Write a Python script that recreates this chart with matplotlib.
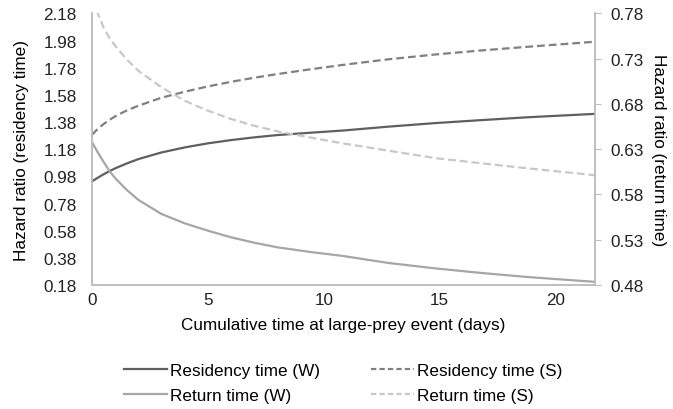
import numpy as np
import matplotlib
matplotlib.use('Agg')
import matplotlib.pyplot as plt
from matplotlib.lines import Line2D

plt.rcParams['font.family'] = ['Liberation Sans', 'DejaVu Sans']

# days since start of large-prey event
days = [0, 0.25, 0.5, 0.75, 1, 1.5, 2, 3, 4, 5, 6, 7, 8, 9.5, 10.8, 12.8, 14.8, 16.8, 18.8, 21.7]

# hazard ratios
res_w = [0.943, 0.97, 0.995, 1.018, 1.039, 1.075, 1.107, 1.156, 1.193, 1.223, 1.247, 1.267,
         1.284, 1.302, 1.317, 1.346, 1.372, 1.394, 1.415, 1.44]
res_s = [1.286, 1.33, 1.365, 1.395, 1.422, 1.465, 1.500, 1.559, 1.603, 1.642, 1.676, 1.706,
         1.733, 1.770, 1.800, 1.842, 1.877, 1.907, 1.934, 1.971]
ret_w = [0.6376, 0.6265, 0.616, 0.606, 0.598, 0.585, 0.574, 0.5584, 0.5481, 0.540, 0.5327,
         0.5267, 0.5216, 0.5162, 0.5122, 0.5043, 0.4984, 0.4933, 0.4888, 0.4835]
ret_s = [0.800, 0.780, 0.7645, 0.753, 0.7442, 0.729, 0.7166, 0.6983, 0.6835, 0.6725, 0.6633,
         0.6559, 0.6497, 0.6425, 0.6365, 0.6283, 0.6202, 0.6144, 0.6089, 0.6012]

left_ticks = [0.18, 0.38, 0.58, 0.78, 0.98, 1.18, 1.38, 1.58, 1.78, 1.98, 2.18]
right_ticks = [0.48, 0.53, 0.58, 0.63, 0.68, 0.73, 0.78]
x_ticks = [0, 5, 10, 15, 20]

C_RES_W = '#5f5f5f'
C_RES_S = '#808080'
C_RET_W = '#a6a6a6'
C_RET_S = '#c8c8c8'
AXC = '#bfbfbf'
FS = 12.3
DASH = (3.5, 1.8)

fig = plt.figure(figsize=(6.73, 4.10), dpi=100)
ax = fig.add_axes([0.1367, 0.3024, 0.884 - 0.1367, 0.965 - 0.3024])
ax2 = ax.twinx()

ax.plot(days, res_w, color=C_RES_W, lw=1.6, zorder=3)
ax.plot(days, res_s, color=C_RES_S, lw=1.6, dashes=DASH, zorder=3)
ax2.plot(days, ret_w, color=C_RET_W, lw=1.6)
ax2.plot(days, ret_s, color=C_RET_S, lw=1.6, dashes=DASH)

ax.set_xlim(0, 21.7)
ax.set_ylim(0.18, 2.18)
ax2.set_ylim(0.48, 0.78)
ax.set_yticks(left_ticks)
ax.set_yticklabels([f'{v:.2f}' for v in left_ticks])
ax2.set_yticks(right_ticks)
ax2.set_yticklabels([f'{v:.2f}' for v in right_ticks])
ax.set_xticks(x_ticks)

for a in (ax, ax2):
    a.spines['top'].set_visible(False)
    for s in ('left', 'right', 'bottom'):
        a.spines[s].set_color(AXC)
        a.spines[s].set_linewidth(1.2)
ax.tick_params(axis='y', length=0, labelsize=FS, colors='#222222', pad=11)
ax.tick_params(axis='x', length=0, labelsize=FS, colors='#222222', pad=5)
ax2.tick_params(axis='y', length=4, color=AXC, labelsize=FS, labelcolor='#222222', pad=7)

ax.set_xlabel('Cumulative time at large-prey event (days)', fontsize=FS, labelpad=7)
ax.set_ylabel('Hazard ratio (residency time)', fontsize=FS, labelpad=10)
ax2.set_ylabel('Hazard ratio (return time)', fontsize=FS, rotation=270, labelpad=16)

handles = [
    Line2D([], [], color=C_RES_W, lw=1.6),
    Line2D([], [], color=C_RET_W, lw=1.6),
    Line2D([], [], color=C_RES_S, lw=1.6, dashes=(2.4, 1.4)),
    Line2D([], [], color=C_RET_S, lw=1.6, dashes=(2.4, 1.4)),
]
labels = ['Residency time (W)', 'Return time (W)', 'Residency time (S)', 'Return time (S)']
fig.legend(handles, labels, loc='upper center', bbox_to_anchor=(0.51, 0.113),
           ncol=2, frameon=False, fontsize=FS, handlelength=2.5, handletextpad=0.2,
           columnspacing=3.0, labelspacing=0.6, borderaxespad=0, borderpad=0)

fig.savefig('out.png', dpi=100)
